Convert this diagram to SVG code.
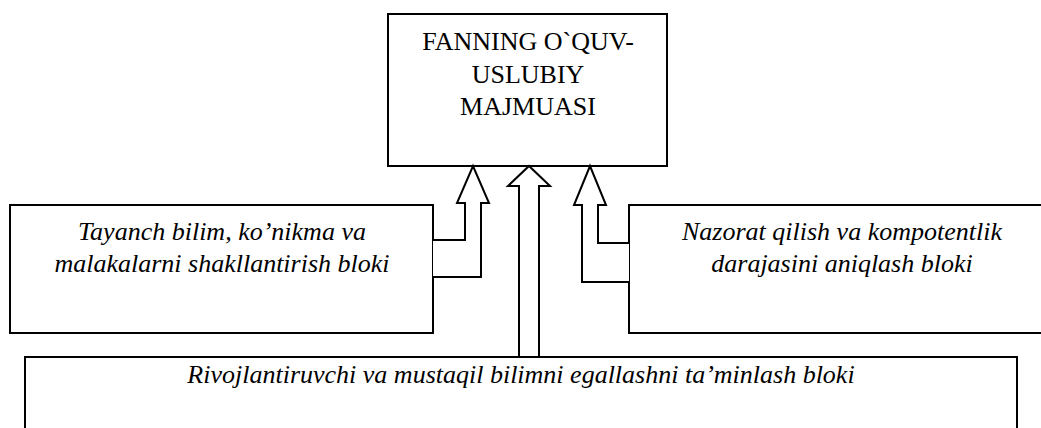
<svg xmlns="http://www.w3.org/2000/svg" width="1041" height="428" viewBox="0 0 1041 428">
<defs>
<style>
.box{fill:#fff;stroke:#000;stroke-width:2}
.arr{fill:#fff;stroke:#000;stroke-width:2;stroke-linejoin:miter}
</style>
</defs>
<rect width="1041" height="428" fill="#fff"/>
<g id="node-top">
<rect class="box" x="388" y="14" width="279" height="152"/>
<text x="528" y="50" font-family="Liberation Serif" font-size="26" text-anchor="middle">FANNING O`QUV-</text>
<text x="528" y="83" font-family="Liberation Serif" font-size="26" text-anchor="middle">USLUBIY</text>
<text x="528" y="115" font-family="Liberation Serif" font-size="26" text-anchor="middle">MAJMUASI</text>
</g>
<g id="node-left">
<rect class="box" x="10" y="205" width="423" height="128"/>
<text x="222" y="240" font-family="Liberation Serif" font-size="26" font-style="italic" text-anchor="middle">Tayanch bilim, ko’nikma va</text>
<text x="222" y="272" font-family="Liberation Serif" font-size="26" font-style="italic" text-anchor="middle">malakalarni shakllantirish bloki</text>
</g>
<g id="node-right">
<rect class="box" x="629" y="205" width="420" height="128"/>
<text x="842" y="240" font-family="Liberation Serif" font-size="26" font-style="italic" text-anchor="middle">Nazorat qilish va kompotentlik</text>
<text x="842" y="272" font-family="Liberation Serif" font-size="26" font-style="italic" text-anchor="middle">darajasini aniqlash bloki</text>
</g>
<g id="node-bottom">
<rect class="box" x="25" y="357" width="992" height="80"/>
<text x="521" y="383" font-family="Liberation Serif" font-size="26" font-style="italic" text-anchor="middle">Rivojlantiruvchi va mustaqil bilimni egallashni ta’minlash bloki</text>
</g>
<g id="connectors">
<polyline class="arr" points="433,240 465,240 465,203 457,203 473,166 489,203 481,203 481,277 433,277"/>
<polygon class="arr" points="519,357 519,186 508,186 529,166 550,186 539,186 539,357"/>
<polyline class="arr" points="629,243 598,243 598,205 606,205 590,166 574,205 582,205 582,282 629,282"/>
</g>
</svg>
